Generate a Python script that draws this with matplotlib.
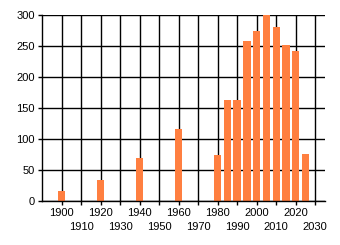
import matplotlib
matplotlib.use('Agg')
import matplotlib.pyplot as plt
import matplotlib.transforms as mtransforms

years = [1900, 1920, 1940, 1960, 1980, 1985, 1990, 1995, 2000, 2005, 2010, 2015, 2020, 2025]
counts = [16, 34, 69, 116, 74, 163, 163, 258, 274, 300, 280, 251, 242, 76]
decades = list(range(1900, 2031, 10))

plt.rcParams['font.family'] = 'Liberation Sans'
fig = plt.figure(figsize=(3.4, 2.45), dpi=100)
ax = fig.add_axes([0.1235, 0.1796, 0.8325, 0.7592])

ax.bar(years, counts, width=3.8, color='#FF7F40', zorder=3)

ax.set_xlim(1890, 2035)
ax.set_ylim(0, 300)
ax.set_yticks(range(0, 301, 50))
ax.set_xticks(decades)
ax.set_xticklabels([str(d) for d in decades])
ax.tick_params(labelsize=8, length=3, width=1, color='black', pad=2)

# odd decades sit on a second row
shift = mtransforms.ScaledTranslation(0, -0.145, fig.dpi_scale_trans)
for d, lab in zip(decades, ax.get_xticklabels()):
    if (d // 10) % 2 == 1:
        lab.set_transform(lab.get_transform() + shift)

ax.grid(True, color='black', linewidth=1, zorder=0)
for s in ['top', 'right']:
    ax.spines[s].set_visible(False)
for s in ['left', 'bottom']:
    ax.spines[s].set_color('black')
    ax.spines[s].set_linewidth(1)
    ax.spines[s].set_zorder(4)

fig.savefig('out.png', dpi=100)
